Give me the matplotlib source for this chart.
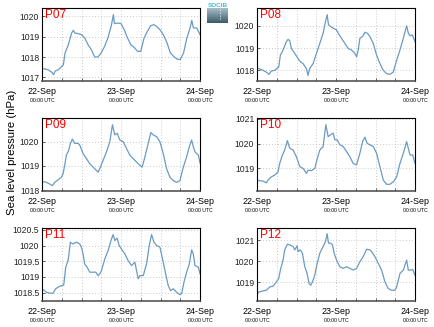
import numpy as np
import matplotlib
matplotlib.use('Agg')
import matplotlib.pyplot as plt
from matplotlib.colors import LinearSegmentedColormap

LINE = '#6a9bc3'
GRID = '#b8b8b8'
plt.rcParams.update({'font.family': ['Liberation Sans', 'DejaVu Sans'], 'font.size': 6})

# hours since 22-Sep 00:00 UTC and sea level pressure (hPa)
p07_h = [0, 1, 2, 3, 3.5, 4, 5, 6, 6.5, 7, 8, 9, 9.5, 10, 11, 12, 13, 14, 15, 16, 17, 18, 19, 20, 21,
         21.7, 22, 23, 24, 25, 26, 27, 28, 29, 30, 31, 32, 33, 34, 35, 36, 37, 38, 39, 40, 41, 42,
         43, 44, 45, 45.5, 46, 47, 48]
p07_v = [1017.43, 1017.41, 1017.36, 1017.25, 1017.13, 1017.31, 1017.38, 1017.54, 1017.62, 1018.2,
         1018.6, 1019.18, 1019.31, 1019.18, 1019.15, 1019.1, 1018.93, 1018.6, 1018.36, 1018.0,
         1018.0, 1018.2, 1018.52, 1018.93, 1019.5, 1020.08, 1019.64, 1019.67, 1019.64, 1019.34,
         1018.93, 1018.6, 1018.48, 1018.28, 1018.28, 1018.93, 1019.26, 1019.54, 1019.59, 1019.48,
         1019.31, 1019.05, 1018.69, 1018.2, 1018.03, 1017.9, 1017.87, 1018.2, 1018.93, 1019.43,
         1019.8, 1019.43, 1019.43, 1019.1]

p08_h = [0, 1.83, 2.84, 3.65, 4.36, 5.38, 6.6, 7.1, 7.92, 8.93, 9.44, 9.95, 10.45, 11.47, 12.48,
         13.19, 14.0, 15.0, 15.5, 16.0, 17.05, 18.06, 19.08, 20.09, 20.6, 21.31, 21.72, 22.33,
         23.14, 24.15, 24.66, 25.67, 26.69, 27.7, 28.72, 29.73, 30.24, 30.75, 31.26, 32.07, 32.78,
         33.49, 34.3, 35.32, 36.33, 37.35, 38.36, 39.37, 40.39, 41.4, 42.42, 43.43, 44.45, 45.46,
         45.97, 46.48, 47.19, 48]
p08_v = [1018.11, 1018.0, 1017.92, 1017.82, 1017.97, 1018.0, 1018.15, 1018.68, 1018.91, 1019.29,
         1019.39, 1019.33, 1018.98, 1018.76, 1018.53, 1018.38, 1018.3, 1018.08, 1017.77, 1018.08,
         1018.3, 1018.76, 1019.21, 1019.67, 1020.05, 1020.5, 1020.05, 1019.97, 1019.89, 1019.82,
         1019.67, 1019.44, 1019.21, 1018.98, 1018.91, 1018.76, 1018.61, 1018.91, 1019.44, 1019.52,
         1019.71, 1019.67, 1019.52, 1019.21, 1018.68, 1018.3, 1018.0, 1017.85, 1017.82, 1017.92,
         1018.45, 1018.91, 1019.44, 1020.0, 1019.67, 1019.55, 1019.59, 1019.29]

p09_h = [0, 1.32, 2.33, 3.15, 3.86, 4.87, 5.89, 6.39, 6.9, 7.41, 8.12, 8.63, 9.24, 9.95, 10.96,
         11.47, 12.48, 13.5, 14.51, 15.53, 16.54, 17.05, 17.76, 18.57, 19.59, 20.6, 21.41, 22.12,
         22.83, 23.65, 24.66, 25.67, 26.69, 27.7, 28.72, 29.73, 30.44, 31.26, 32.27, 33.08, 33.79,
         34.81, 35.82, 36.84, 37.85, 38.87, 39.88, 40.9, 41.91, 42.93, 43.94, 44.75, 45.46, 45.97,
         46.48, 47.5, 48]
p09_v = [1018.36, 1018.32, 1018.25, 1018.18, 1018.32, 1018.42, 1018.53, 1018.67, 1019.02, 1019.44,
         1019.65, 1019.93, 1020.11, 1019.93, 1019.93, 1019.86, 1019.51, 1019.3, 1019.09, 1018.95,
         1018.81, 1018.74, 1018.95, 1019.23, 1019.58, 1020.0, 1020.7, 1020.28, 1020.35, 1020.07,
         1020.0, 1019.72, 1019.44, 1019.3, 1019.16, 1019.02, 1018.95, 1019.37, 1019.93, 1020.38,
         1020.28, 1020.21, 1020.0, 1019.51, 1018.88, 1018.53, 1018.39, 1018.32, 1018.39, 1018.95,
         1019.37, 1019.79, 1020.07, 1019.79, 1019.58, 1019.44, 1019.12]

p10_h = [0, 0.81, 1.83, 2.84, 3.35, 4.36, 5.38, 6.39, 6.9, 7.71, 8.42, 9.24, 9.95, 10.96, 11.97,
         12.99, 14.0, 15.02, 15.53, 16.54, 17.56, 18.06, 19.08, 20.09, 20.91, 21.62, 22.33, 23.14,
         23.65, 24.36, 25.17, 26.19, 27.2, 28.21, 29.23, 30.24, 31.26, 32.07, 32.78, 33.49, 34.3,
         35.32, 36.33, 37.35, 38.36, 39.37, 40.39, 41.4, 42.42, 43.43, 44.45, 45.46, 45.97, 46.48,
         47.29, 48]
p10_v = [1018.53, 1018.5, 1018.49, 1018.42, 1018.53, 1018.66, 1018.73, 1018.86, 1019.2, 1019.54,
         1019.74, 1020.12, 1019.81, 1019.74, 1019.47, 1019.07, 1019.0, 1018.8, 1018.93, 1018.91,
         1019.0, 1019.27, 1019.74, 1019.88, 1020.76, 1020.28, 1020.35, 1020.42, 1020.15, 1020.15,
         1019.95, 1019.88, 1019.68, 1019.47, 1019.2, 1019.14, 1019.61, 1020.08, 1020.26, 1020.01,
         1019.95, 1019.88, 1019.61, 1019.07, 1018.53, 1018.36, 1018.36, 1018.46, 1018.66, 1019.2,
         1019.61, 1020.08, 1019.81, 1019.54, 1019.54, 1019.2]

p11_h = [0, 0.81, 1.32, 2.33, 3.35, 4.16, 4.87, 5.89, 6.6, 7.21, 7.92, 8.63, 9.44, 10.45, 11.47,
         11.97, 12.48, 12.99, 13.7, 14.51, 15.53, 16.34, 17.05, 17.56, 18.06, 19.08, 20.09, 21.11,
         21.62, 22.12, 22.83, 23.44, 24.15, 25.17, 26.18, 27.2, 28.21, 28.72, 29.23, 29.73, 30.75,
         31.76, 32.58, 33.29, 34.0, 34.81, 35.82, 36.63, 37.35, 38.36, 39.07, 39.88, 40.9, 41.71,
         42.42, 43.13, 43.94, 44.75, 45.46, 45.97, 46.48, 47.5, 48]
p11_v = [1018.62, 1018.56, 1018.51, 1018.48, 1018.48, 1018.62, 1018.67, 1018.72, 1018.74, 1019.31,
         1019.52, 1020.11, 1020.05, 1020.11, 1020.05, 1019.95, 1019.73, 1019.41, 1019.31, 1019.15,
         1019.15, 1019.15, 1019.04, 1019.1, 1019.2, 1019.57, 1019.84, 1020.21, 1020.35, 1020.16,
         1020.24, 1020.0, 1019.89, 1019.73, 1019.52, 1019.36, 1019.47, 1019.2, 1018.94, 1019.04,
         1019.04, 1019.41, 1020.0, 1020.35, 1020.11, 1020.0, 1019.95, 1019.57, 1019.2, 1018.72,
         1018.56, 1018.62, 1018.51, 1018.44, 1018.46, 1018.83, 1019.15, 1019.41, 1019.86, 1019.73,
         1019.36, 1019.31, 1019.1]

p12_h = [0, 0.61, 1.83, 2.84, 3.86, 4.87, 5.89, 6.6, 7.1, 7.92, 8.42, 9.24, 9.95, 10.96, 11.47,
         12.18, 12.48, 13.19, 13.8, 14.51, 15.22, 15.83, 16.34, 16.85, 17.56, 18.06, 19.08, 20.09,
         20.81, 21.31, 21.72, 22.33, 22.93, 23.44, 24.15, 25.17, 26.18, 27.2, 28.21, 29.23, 30.24,
         31.26, 32.27, 33.29, 34.3, 34.81, 35.82, 36.84, 37.85, 38.87, 39.88, 40.9, 41.91, 42.42,
         43.43, 44.45, 45.46, 45.97, 46.79, 47.29, 48]
p12_v = [1018.44, 1018.55, 1018.6, 1018.63, 1018.79, 1018.82, 1019.03, 1019.19, 1019.59, 1020.07,
         1020.55, 1020.82, 1020.79, 1020.71, 1020.55, 1020.74, 1020.47, 1020.55, 1020.39, 1019.75,
         1019.43, 1018.95, 1018.87, 1019.03, 1019.35, 1019.75, 1020.39, 1020.71, 1020.95, 1021.32,
         1020.87, 1020.87, 1020.79, 1020.39, 1020.07, 1019.75, 1019.67, 1019.75, 1019.67, 1019.59,
         1019.67, 1019.99, 1020.23, 1020.58, 1020.55, 1020.47, 1020.23, 1019.91, 1019.59, 1019.03,
         1018.71, 1018.63, 1018.63, 1018.79, 1019.43, 1019.59, 1020.07, 1019.59, 1019.59, 1019.62,
         1019.35]

names = ['P07', 'P08', 'P09', 'P10', 'P11', 'P12']
hours = [p07_h, p08_h, p09_h, p10_h, p11_h, p12_h]
values = [p07_v, p08_v, p09_v, p10_v, p11_v, p12_v]
ylims = [(1016.82, 1020.41), (1017.52, 1020.80), (1017.96, 1020.98),
         (1018.09, 1021.03), (1018.23, 1020.56), (1018.12, 1021.59)]
yticks = [[1017, 1018, 1019, 1020], [1018, 1019, 1020], [1018, 1019, 1020],
          [1019, 1020, 1021], [1018.5, 1019, 1019.5, 1020, 1020.5], [1019, 1020, 1021]]
date_ticks = [0, 24, 48]
date_labels = ['22-Sep', '23-Sep', '24-Sep']

W, H = 434, 327
fig = plt.figure(figsize=(W / 100, H / 100), dpi=100)
lefts = [42, 257]
tops = [8, 118, 228]
for i, name in enumerate(names):
    r, c = divmod(i, 2)
    ax = fig.add_axes([lefts[c] / W, 1 - (tops[r] + 73) / H, 158 / W, 73 / H])
    ax.plot(hours[i], values[i], color=LINE, lw=0.9)
    ax.set_xlim(0, 48)
    ax.set_ylim(*ylims[i])
    ax.set_xticks(np.arange(0, 49, 6))
    ax.set_xticklabels([])
    ax.set_yticks(yticks[i])
    ax.set_yticklabels([f'{t:g}' for t in yticks[i]], fontsize=6.2)
    ax.tick_params(direction='in', length=2, width=0.5, pad=2, colors='#222222')
    ax.grid(True, color=GRID, ls=(0, (1, 2.5)), lw=0.6)
    for s in ax.spines.values():
        s.set_linewidth(0.8)
    ax.spines['bottom'].set_color('#555555')
    ax.spines['bottom'].set_linewidth(1.2)
    for t, lab in zip(date_ticks, date_labels):
        ax.annotate(lab, (t, 0), xycoords=('data', 'axes fraction'), xytext=(0, -4),
                    textcoords='offset points', ha='center', va='top', fontsize=6.4)
        ax.annotate('00:00 UTC', (t, 0), xycoords=('data', 'axes fraction'), xytext=(0, -12.5),
                    textcoords='offset points', ha='center', va='top', fontsize=3.7)
    ax.text(0.02, 0.98, name, transform=ax.transAxes, color='red', fontsize=8.5,
            ha='left', va='top')

fig.text(12 / W, 1 - 152 / H, 'Sea level pressure (hPa)', rotation=90, fontsize=8.2,
         ha='center', va='center')

# small logo: cyan name above a grey-teal gradient block
lax = fig.add_axes([207 / W, 1 - 23 / H, 21 / W, 15 / H])
grad = np.linspace(0, 1, 50).reshape(-1, 1)
lax.imshow(grad, aspect='auto', extent=(0, 1, 0, 1),
           cmap=LinearSegmentedColormap.from_list('lg', ['#a9bcc8', '#3c5b6a']))
lax.plot([0.62, 0.62], [0.3, 0.95], color='white', ls=(0, (1, 2)), lw=0.7)
lax.set_xlim(0, 1); lax.set_ylim(0, 1)
lax.axis('off')
fig.text(217.5 / W, 1 - 5.5 / H, 'SOCIB', color='#35c3dc', fontsize=4.6, ha='center',
         va='center', fontweight='bold')

fig.savefig('out.png', dpi=100)
